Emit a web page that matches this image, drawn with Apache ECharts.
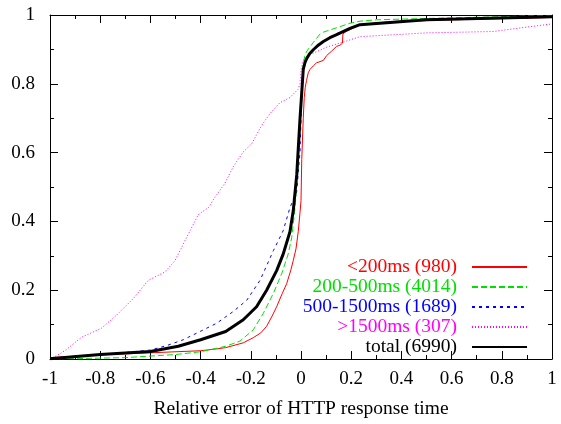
<!DOCTYPE html>
<html>
<head>
<meta charset="utf-8">
<script src="https://cdn.jsdelivr.net/npm/echarts@6/dist/echarts.min.js"></script>
<style>html,body{margin:0;padding:0;background:#fff;}#c{width:561px;height:424px;}</style>
</head>
<body>
<div id="c"></div>
<script>
// ---- data (x = relative error, y = cumulative fraction) ----
const xTicks = [-1, -0.8, -0.6, -0.4, -0.2, 0, 0.2, 0.4, 0.6, 0.8, 1];
const yTicks = [0, 0.2, 0.4, 0.6, 0.8, 1];

const names = ['<200ms (980)', '200-500ms (4014)', '500-1500ms (1689)', '>1500ms (307)', 'total (6990)'];

const redX = [-1, -0.8, -0.6, -0.4, -0.34, -0.3, -0.23, -0.19, -0.16, -0.137, -0.115, -0.097, -0.075, -0.057, -0.04, -0.031, -0.02, -0.011, -0.004, 0.0, 0.003, 0.009, 0.013, 0.017, 0.022, 0.029, 0.036, 0.049, 0.062, 0.089, 0.102, 0.122, 0.142, 0.155, 0.165, 0.167, 0.18, 0.195, 0.235, 0.3, 0.367, 0.6, 0.9, 1.0];
const redY = [0.004, 0.012, 0.018, 0.024, 0.029, 0.033, 0.047, 0.062, 0.076, 0.095, 0.125, 0.152, 0.19, 0.219, 0.26, 0.286, 0.32, 0.37, 0.425, 0.46, 0.58, 0.70, 0.76, 0.79, 0.81, 0.832, 0.842, 0.852, 0.861, 0.868, 0.882, 0.895, 0.909, 0.912, 0.918, 0.945, 0.952, 0.957, 0.971, 0.977, 0.981, 0.986, 0.991, 0.993];

const greenX = [-1, -0.9, -0.7, -0.5, -0.4, -0.3, -0.243, -0.19, -0.15, -0.11, -0.077, -0.051, -0.037, -0.025, -0.012, -0.003, 0.002, 0.008, 0.015, 0.023, 0.049, 0.076, 0.089, 0.142, 0.195, 0.235, 0.3, 0.5, 0.8, 1.0];
const greenY = [0, 0.001, 0.004, 0.013, 0.021, 0.037, 0.052, 0.085, 0.133, 0.191, 0.248, 0.305, 0.353, 0.43, 0.55, 0.68, 0.77, 0.85, 0.88, 0.895, 0.92, 0.945, 0.95, 0.963, 0.976, 0.982, 0.986, 0.99, 0.995, 0.999];

const blueX = [-1, -0.8, -0.6, -0.535, -0.469, -0.402, -0.336, -0.27, -0.216, -0.163, -0.11, -0.071, -0.044, -0.017, -0.004, 0.003, 0.009, 0.02, 0.045, 0.09, 0.14, 0.18, 0.235, 0.5, 1.0];
const blueY = [0.001, 0.012, 0.026, 0.039, 0.056, 0.08, 0.104, 0.138, 0.171, 0.229, 0.315, 0.373, 0.44, 0.487, 0.602, 0.76, 0.84, 0.87, 0.90, 0.925, 0.945, 0.957, 0.972, 0.987, 0.997];

const magentaX = [-1, -0.96, -0.93, -0.894, -0.87, -0.847, -0.794, -0.734, -0.668, -0.608, -0.542, -0.502, -0.449, -0.409, -0.369, -0.343, -0.303, -0.27, -0.23, -0.196, -0.157, -0.124, -0.084, -0.044, -0.012, -0.004, 0.0, 0.008, 0.036, 0.104, 0.167, 0.235, 0.5, 0.765, 0.9, 1.0];
const magentaY = [0, 0.015, 0.03, 0.052, 0.065, 0.072, 0.09, 0.128, 0.176, 0.229, 0.253, 0.286, 0.363, 0.42, 0.44, 0.47, 0.511, 0.559, 0.602, 0.626, 0.679, 0.713, 0.745, 0.76, 0.784, 0.80, 0.84, 0.868, 0.885, 0.907, 0.921, 0.937, 0.948, 0.952, 0.965, 0.974];

const totalX = [-1, -0.8, -0.6, -0.489, -0.4, -0.3, -0.23, -0.177, -0.137, -0.097, -0.071, -0.044, -0.031, -0.017, -0.004, 0.003, 0.009, 0.016, 0.023, 0.035, 0.049, 0.07, 0.089, 0.115, 0.142, 0.195, 0.235, 0.5, 1.0];
const totalY = [0.001, 0.013, 0.022, 0.037, 0.056, 0.08, 0.114, 0.152, 0.2, 0.257, 0.305, 0.37, 0.43, 0.535, 0.698, 0.775, 0.842, 0.862, 0.874, 0.888, 0.899, 0.913, 0.923, 0.934, 0.943, 0.961, 0.972, 0.986, 0.995];

// ---- build chart ----
const colors = ['#ff0000', '#00e000', '#0000ff', '#ff00ff', '#000000'];
const dashes = ['solid', [6, 3], [3, 4], [1, 2], 'solid'];
const widths = [1, 1, 1, 1, 3];
const xsAll = [redX, greenX, blueX, magentaX, totalX];
const ysAll = [redY, greenY, blueY, magentaY, totalY];

const FONT = 'Liberation Serif';

function zip(xs, ys) { return xs.map((x, i) => [x, ys[i]]); }

const series = names.map((n, i) => ({
  name: n,
  type: 'line',
  symbol: 'none',
  smooth: false,
  animation: false,
  xAxisIndex: 0,
  yAxisIndex: 0,
  data: zip(xsAll[i], ysAll[i]),
  lineStyle: { color: colors[i], width: widths[i], type: dashes[i] },
  itemStyle: { color: colors[i] },
  emphasis: { disabled: true }
}));

const axisCommon = {
  type: 'value',
  min: -1, max: 1, interval: 0.2,
  axisLine: { show: true, onZero: false, lineStyle: { color: '#000', width: 1 } },
  axisTick: { show: true, inside: true, length: 8, lineStyle: { color: '#000' } },
  minorTick: { show: true, splitNumber: 2, length: 4, lineStyle: { color: '#000' } },
  splitLine: { show: false },
  minorSplitLine: { show: false }
};

const labelStyle = {
  color: '#000', fontFamily: FONT, fontSize: 19,
  formatter: v => (Math.abs(v) < 1e-9 ? '0' : String(+v.toFixed(1)))
};

const option = {
  animation: false,
  textStyle: { fontFamily: FONT },
  grid: { left: 50, right: 9, top: 15, bottom: 61, containLabel: false },
  xAxis: [
    Object.assign({}, axisCommon, {
      position: 'bottom',
      axisLabel: Object.assign({ margin: 11 }, labelStyle),
      name: 'Relative error of HTTP response time',
      nameLocation: 'middle',
      nameGap: 40,
      nameTextStyle: { color: '#000', fontFamily: FONT, fontSize: 19.5 }
    }),
    Object.assign({}, axisCommon, { position: 'top', axisLabel: { show: false } })
  ],
  yAxis: [
    Object.assign({}, axisCommon, {
      min: 0, max: 1, interval: 0.2,
      position: 'left',
      axisLabel: Object.assign({ margin: 15 }, labelStyle)
    }),
    Object.assign({}, axisCommon, { min: 0, max: 1, interval: 0.2, position: 'right', axisLabel: { show: false } })
  ],
  legend: {
    orient: 'vertical',
    align: 'right',
    right: 33,
    top: 257,
    padding: 0,
    itemGap: 0,
    itemWidth: 55,
    itemHeight: 14,
    selectedMode: false,
    itemStyle: { opacity: 0 },
    textStyle: { fontFamily: FONT, fontSize: 19.5, padding: [0, 10, 0, 0] },
    data: names.map((n, i) => ({ name: n, textStyle: { color: colors[i], fontFamily: FONT, fontSize: 19.5 } }))
  },
  series: series
};

const chart = echarts.init(document.getElementById('c'));
chart.setOption(option);
</script>
</body>
</html>
